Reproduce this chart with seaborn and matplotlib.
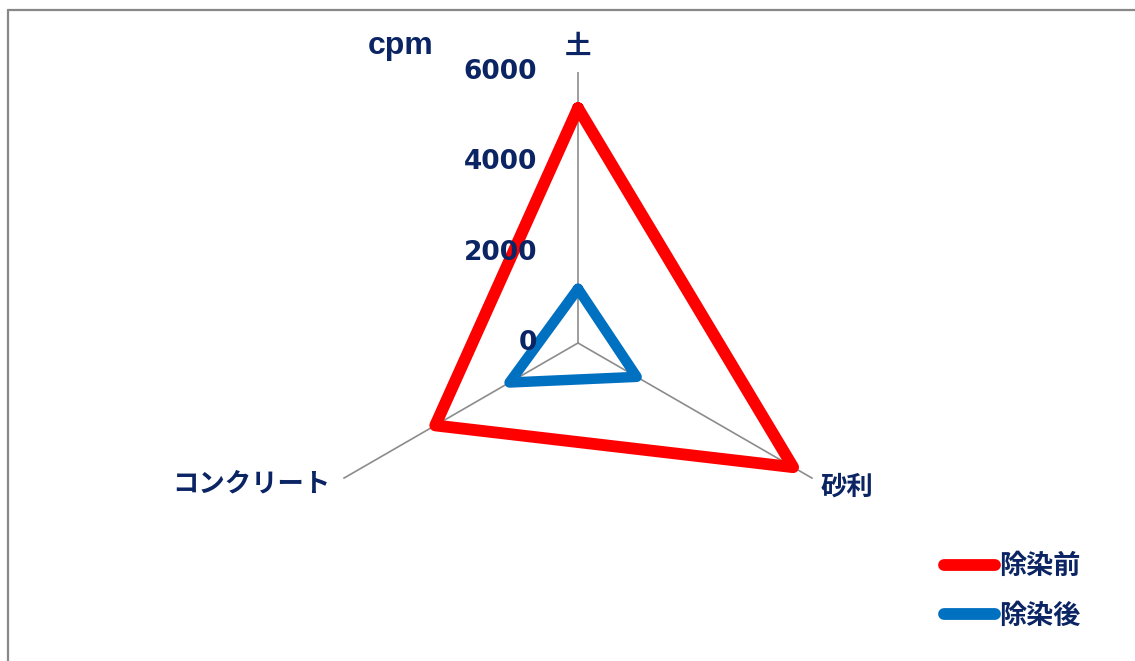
import numpy as np
import pandas as pd
import seaborn as sns
import matplotlib.pyplot as plt
from matplotlib.lines import Line2D

# データ
categories = ["土", "砂利", "コンクリート"]
before = [5200, 5500, 3650]   # 除染前
after = [1200, 1500, 1750]    # 除染後
r_ticks = [0, 2000, 4000, 6000]
series_names = ["除染前", "除染後"]
colors = {"除染前": "#ff0000", "除染後": "#0070c0"}

navy = "#0b2463"
sns.set_theme(style="white")
plt.rcParams["font.family"] = ["Liberation Sans", "Noto Sans CJK JP", "DejaVu Sans"]

angles = np.linspace(0, 2 * np.pi, len(categories), endpoint=False)


def closed_frame(values, name):
    th = np.append(angles, angles[0] + 2 * np.pi)
    r = np.append(values, values[0])
    return pd.DataFrame({"theta": th, "r": r, "series": name})


fig = plt.figure(figsize=(11.35, 6.61), dpi=100)
ax = fig.add_axes([0.2705, 0.0711, 0.4775, 0.820], projection="polar")
ax.set_theta_zero_location("N")
ax.set_theta_direction(-1)

for vals, name, lw in [(before, "除染前", 8.5), (after, "除染後", 7.5)]:
    sns.lineplot(data=closed_frame(vals, name), x="theta", y="r", sort=False,
                 color=colors[name], linewidth=lw, ax=ax, legend=False,
                 solid_joinstyle="round", solid_capstyle="round")

ax.set_ylim(0, 6000)
ax.set_xticks(angles)
ax.set_xticklabels([])
ax.set_yticks(r_ticks)
ax.set_yticklabels([])
ax.set_xlabel("")
ax.set_ylabel("")
ax.yaxis.grid(False)
ax.xaxis.grid(True, color="#8c8c8c", linewidth=1.2)
ax.spines["polar"].set_visible(False)
ax.set_facecolor("none")

# 目盛りラベル
for t in r_ticks:
    ax.annotate(str(t), xy=(0, t), xytext=(-29.5, 0), textcoords="offset points",
                ha="right", va="center", fontsize=19, fontweight="bold",
                family=["DejaVu Sans"], color=navy, annotation_clip=False)

ax.annotate("cpm", xy=(0, 6000), xytext=(-128, 19), textcoords="offset points",
            ha="center", va="center", fontsize=23, fontweight="bold",
            color=navy, annotation_clip=False)

# カテゴリラベル
offsets = [(0, 18, "center"), (6, -6.5, "left"), (-9, -4.5, "right")]
for ang, cat, (dx, dy, ha) in zip(angles, categories, offsets):
    ax.annotate(cat, xy=(ang, 6000), xytext=(dx, dy), textcoords="offset points",
                ha=ha, va="center", fontsize=19, fontweight="bold",
                color=navy, annotation_clip=False)

# 凡例
handles = [Line2D([0], [0], color=colors[n], linewidth=8.5, solid_capstyle="round")
           for n in series_names]
leg = fig.legend(handles, series_names, loc="center left",
                 bbox_to_anchor=(944 / 1135, 1 - 591 / 661), frameon=False,
                 borderpad=0, borderaxespad=0, handlelength=1.9,
                 handletextpad=0.15, labelspacing=0.8,
                 prop={"family": ["Noto Sans CJK JP"], "weight": "bold", "size": 19.5})
for txt in leg.get_texts():
    txt.set_color(navy)

# 外枠（上と左）
fig.add_artist(Line2D([8 / 1135, 8 / 1135], [0, 1 - 10 / 661],
                      transform=fig.transFigure, color="#888888", linewidth=1.6))
fig.add_artist(Line2D([8 / 1135, 1], [1 - 10 / 661, 1 - 10 / 661],
                      transform=fig.transFigure, color="#888888", linewidth=1.6))

fig.savefig("out.png", dpi=100)
